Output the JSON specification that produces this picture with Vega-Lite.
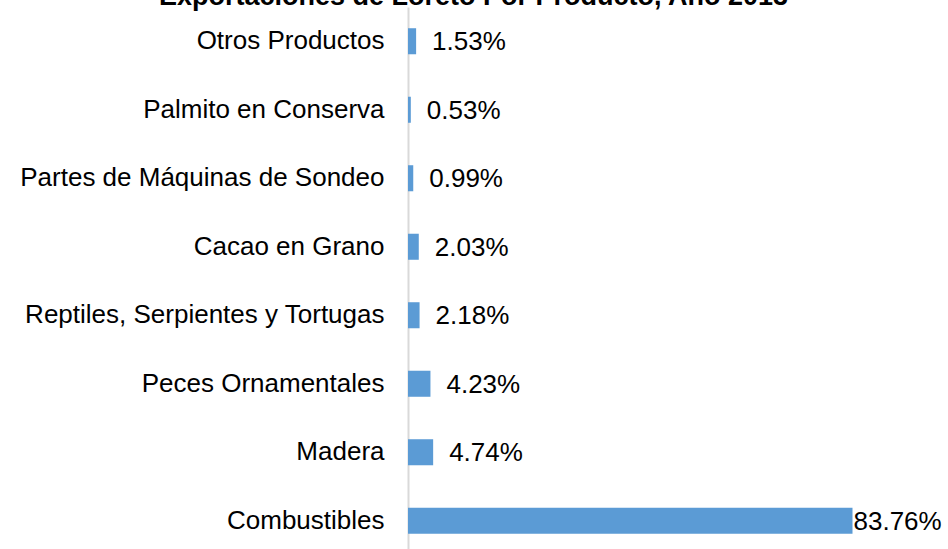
{
  "$schema": "https://vega.github.io/schema/vega-lite/v6.json",
  "autosize": {"type": "none"},
  "width": 467,
  "height": 548,
  "padding": {"left": 408, "top": 7, "right": 73, "bottom": 0},
  "background": "white",
  "title": {
    "text": "Exportaciones de Loreto Por Producto, Año 2013",
    "font": "Liberation Sans",
    "fontSize": 27,
    "fontWeight": "bold",
    "color": "#000000",
    "anchor": "middle",
    "baseline": "alphabetic",
    "offset": 1,
    "dx": -168,
    "dy": 26
  },
  "data": {
    "values": [
      {"producto": "Otros Productos", "pct": 1.53, "label": "1.53%"},
      {"producto": "Palmito en Conserva", "pct": 0.53, "label": "0.53%"},
      {"producto": "Partes de Máquinas de Sondeo", "pct": 0.99, "label": "0.99%"},
      {"producto": "Cacao en Grano", "pct": 2.03, "label": "2.03%"},
      {"producto": "Reptiles, Serpientes y Tortugas", "pct": 2.18, "label": "2.18%"},
      {"producto": "Peces Ornamentales", "pct": 4.23, "label": "4.23%"},
      {"producto": "Madera", "pct": 4.74, "label": "4.74%"},
      {"producto": "Combustibles", "pct": 83.76, "label": "83.76%"}
    ]
  },
  "encoding": {
    "y": {
      "field": "producto",
      "type": "nominal",
      "sort": null,
      "scale": {"paddingInner": 0.62, "paddingOuter": 0.31},
      "axis": {
        "title": null,
        "ticks": false,
        "labelPadding": 24,
        "labelFont": "Liberation Sans",
        "labelFontSize": 26,
        "labelColor": "#000000",
        "labelLimit": 500,
        "domainColor": "#d9d9d9",
        "domainWidth": 2,
        "grid": false
      }
    },
    "x": {
      "field": "pct",
      "type": "quantitative",
      "scale": {"domain": [0, 88], "nice": false},
      "axis": null
    }
  },
  "layer": [
    {"mark": {"type": "bar", "color": "#5b9bd5"}},
    {
      "transform": [{"filter": "datum.pct < 50"}],
      "mark": {"type": "text", "align": "left", "baseline": "middle", "dx": 16, "dy": 1, "font": "Liberation Sans", "fontSize": 26, "color": "#000000"},
      "encoding": {"text": {"field": "label"}}
    },
    {
      "transform": [{"filter": "datum.pct >= 50"}],
      "mark": {"type": "text", "align": "left", "baseline": "middle", "dx": 1, "dy": 1, "font": "Liberation Sans", "fontSize": 26, "color": "#000000"},
      "encoding": {"text": {"field": "label"}}
    }
  ],
  "config": {"view": {"stroke": null}}
}
